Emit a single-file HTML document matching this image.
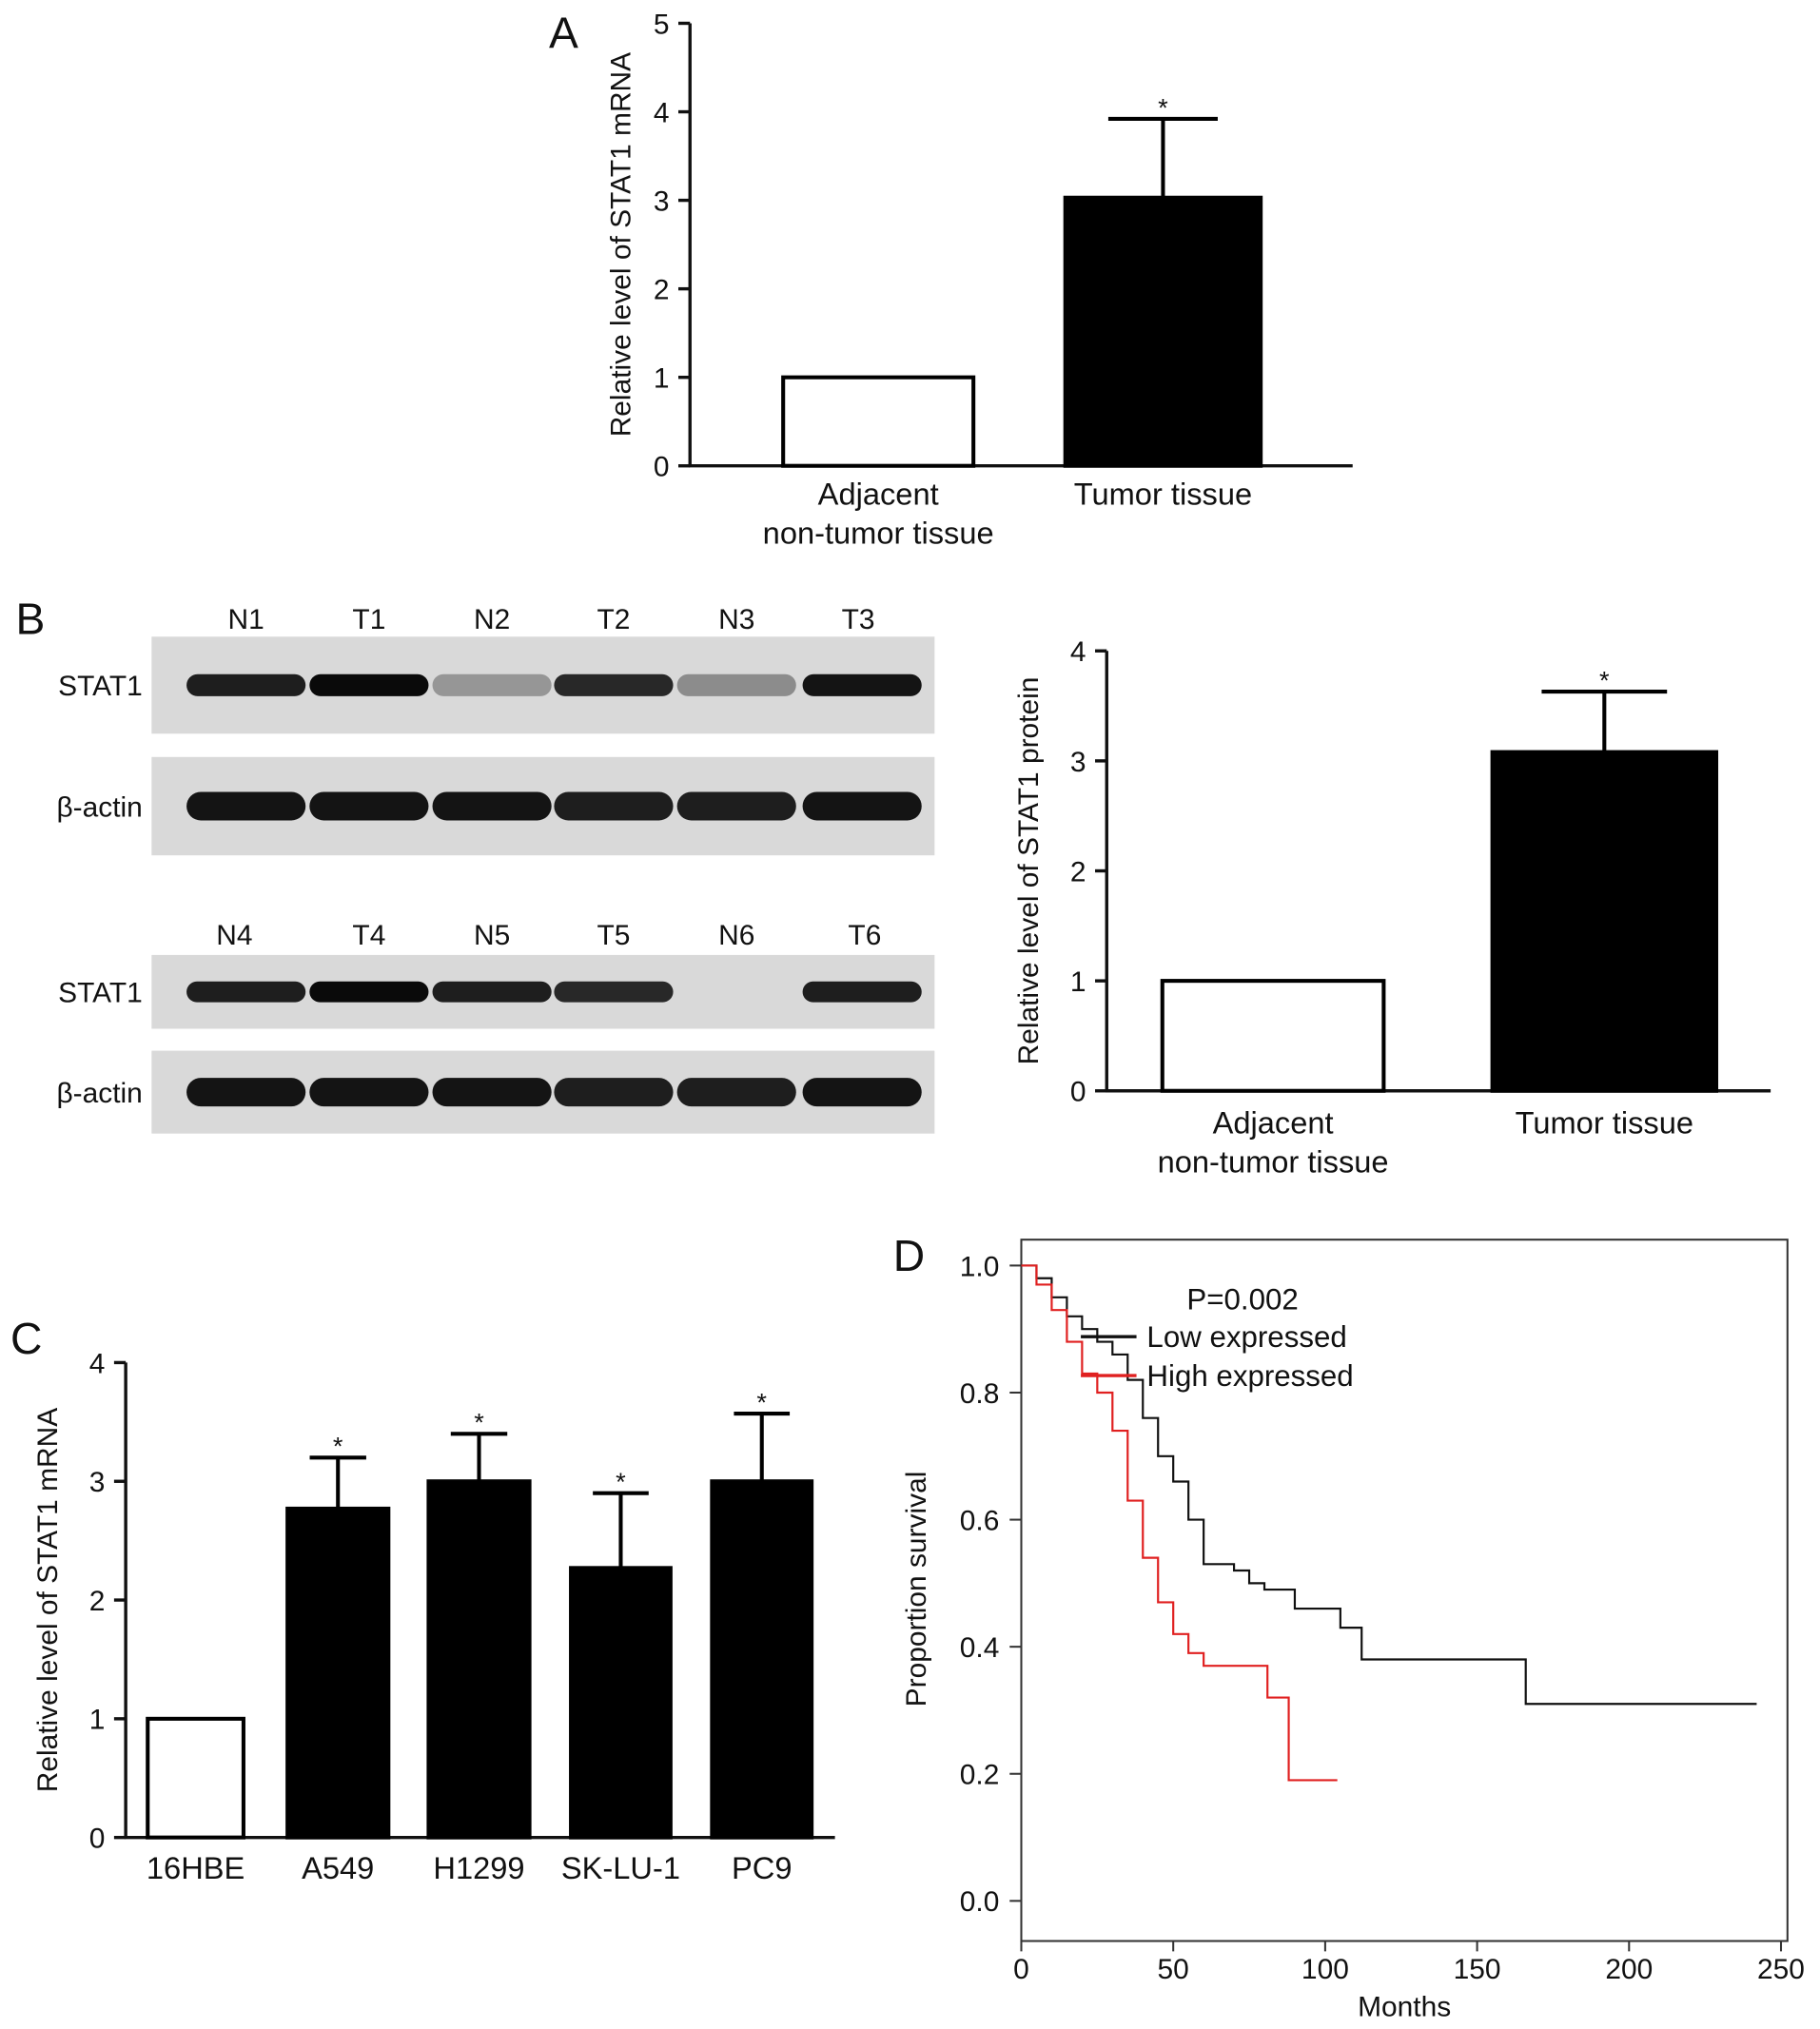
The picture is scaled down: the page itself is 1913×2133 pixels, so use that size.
<!DOCTYPE html>
<html><head><meta charset="utf-8"><style>
html,body{margin:0;padding:0;background:#fff}
svg{display:block}
text{font-family:"Liberation Sans",sans-serif;fill:#111}
</style></head><body>
<svg id="fig" width="1913" height="2133" viewBox="0 0 1406 1568" xmlns="http://www.w3.org/2000/svg">
<g id="root"></g>
</svg>
<script>
// Panel A data
const aCats=[["Adjacent","non-tumor tissue"],["Tumor tissue"]];
const aVals=[1.0,3.03];
const aErr=[0,0.89];
const aTicks=[0,1,2,3,4,5];
// Panel B data
const bCats=[["Adjacent","non-tumor tissue"],["Tumor tissue"]];
const bVals=[1.0,3.08];
const bErr=[0,0.55];
const bTicks=[0,1,2,3,4];
// Panel C data
const cCats=["16HBE","A549","H1299","SK-LU-1","PC9"];
const cVals=[1.0,2.77,3.0,2.27,3.0];
const cErr=[0,0.43,0.4,0.63,0.57];
const cTicks=[0,1,2,3,4];
// Panel D data
const dLowMonths=[0,5,10,15,20,25,30,35,40,45,50,55,60,70,75,80,90,100,105,112,166,242];
const dLowSurv=[1,0.98,0.95,0.92,0.90,0.88,0.86,0.82,0.76,0.70,0.66,0.60,0.53,0.52,0.50,0.49,0.46,0.46,0.43,0.38,0.31,0.31];
const dHighMonths=[0,5,10,15,20,25,30,35,40,45,50,55,60,81,88,104];
const dHighSurv=[1,0.97,0.93,0.88,0.83,0.80,0.74,0.63,0.54,0.47,0.42,0.39,0.37,0.32,0.19,0.19];
const dXTicks=[0,50,100,150,200,250];
const dYTicks=[0.0,0.2,0.4,0.6,0.8,1.0];
// Blot data (band intensity 0..1)
const blotLanes1=["N1","T1","N2","T2","N3","T3"];
const blotLanes2=["N4","T4","N5","T5","N6","T6"];
const stat1Int1=[0.9,1.0,0.3,0.85,0.35,0.95];
const stat1Int2=[0.9,1.0,0.9,0.85,0.0,0.9];
const actinInt=[0.95,0.95,0.95,0.9,0.9,0.95];

const NS="http://www.w3.org/2000/svg";
const root=document.getElementById('root');
function mk(tag,attrs,parent,txt){const e=document.createElementNS(NS,tag);for(const k in attrs)e.setAttribute(k,attrs[k]);if(txt!==undefined)e.textContent=txt;(parent||root).appendChild(e);return e;}

function barChart(o){
  const g=mk('g',{});
  
  
  const yS=v=>o.y0-(v/o.max)*(o.y0-o.yTop);
  mk('line',{x1:o.ax,y1:o.yTop,x2:o.ax,y2:o.y0,stroke:'#111','stroke-width':2.5},g);
  mk('line',{x1:o.ax-1,y1:o.y0,x2:o.xEnd,y2:o.y0,stroke:'#111','stroke-width':2.5},g);
  o.ticks.forEach(t=>{const y=yS(t);
    const l=mk('line',{x1:o.ax-9,y1:y,x2:o.ax,y2:y,stroke:'#111','stroke-width':2.5},g);
    
    const tx=mk('text',{x:o.ax-16,y:y+8,'text-anchor':'end','font-size':22},g,String(t));
    });
  const yl=mk('text',{x:0,y:0,transform:`translate(${o.ylx},${(o.yTop+o.y0)/2}) rotate(-90)`,'text-anchor':'middle','font-size':22},g,o.ylabel);
  
  o.vals.forEach((v,i)=>{
    const [x1,x2]=o.bars[i];const y=yS(v);const white=i===0;
    const r=mk('rect',{x:x1,y:y,width:x2-x1,height:o.y0-y,fill:white?'#fff':'#000',stroke:'#000','stroke-width':3},g);
    
    if(o.err[i]>0){const ye=yS(v+o.err[i]);const cx=(x1+x2)/2;const cw=(x2-x1)*0.28;
      mk('line',{x1:cx,y1:y,x2:cx,y2:ye,stroke:'#000','stroke-width':3},g);
      mk('line',{x1:cx-cw,y1:ye,x2:cx+cw,y2:ye,stroke:'#000','stroke-width':3},g);
      const s=mk('text',{x:cx,y:ye-2,'text-anchor':'middle','font-size':20},g,'*');
      }
    const lab=Array.isArray(o.cats[i])?o.cats[i]:[o.cats[i]];
    lab.forEach((t,j)=>{const tx=mk('text',{x:(x1+x2)/2,y:o.labY+j*30,'text-anchor':'middle','font-size':24},g,t);});
  });
}
// Panel letters
[['A',424,37],['B',12,490],['C',8,1046],['D',690,982]].forEach(([t,x,y])=>{const e=mk('text',{x:x,y:y,'font-size':34},root,t);});

barChart({name:'panel-a-chart',ax:533,yTop:18,y0:360,max:5,xEnd:1045,ticks:aTicks,vals:aVals,err:aErr,cats:aCats,bars:[[605,752],[823,974]],labY:390,ylx:487,ylabel:'Relative level of STAT1 mRNA'});
barChart({name:'panel-b-chart',ax:855,yTop:503,y0:843,max:4,xEnd:1368,ticks:bTicks,vals:bVals,err:bErr,cats:bCats,bars:[[898,1069],[1153,1326]],labY:876,ylx:802,ylabel:'Relative level of STAT1 protein'});
barChart({name:'panel-c-chart',ax:97,yTop:1053,y0:1420,max:4,xEnd:645,ticks:cTicks,vals:cVals,err:cErr,cats:cCats,bars:[[114,188],[222,300],[331,409],[441,518],[550,627]],labY:1452,ylx:44,ylabel:'Relative level of STAT1 mRNA'});

// Blots
function blot(y,h,ints,name,label,thick){
  const g=mk('g',{});
  
  
  mk('rect',{x:117,y:y,width:605,height:h,fill:'#d9d9d9'},g);
  const lx=[190,285,380,474,569,666];
  ints.forEach((v,i)=>{ if(v<=0) return;
    const c=Math.round(210-200*v);
    const b=mk('rect',{x:lx[i]-46,y:y+h/2-thick/2,width:92,height:thick,rx:thick/2,fill:`rgb(${c},${c},${c})`},g);
    });
  const t=mk('text',{x:110,y:y+h/2+8,'text-anchor':'end','font-size':22},g,label);
  
}
blot(492,75,stat1Int1,'stat1-blot-1','STAT1',17);
blot(585,76,actinInt,'actin-blot-1','β-actin',22);
blot(738,57,stat1Int2,'stat1-blot-2','STAT1',16);
blot(812,64,actinInt,'actin-blot-2','β-actin',22);
const lx1=[190,285,380,474,569,663],lx2=[181,285,380,474,569,668];
blotLanes1.forEach((l,i)=>{const t=mk('text',{x:lx1[i],y:486,'text-anchor':'middle','font-size':22},root,l);});
blotLanes2.forEach((l,i)=>{const t=mk('text',{x:lx2[i],y:730,'text-anchor':'middle','font-size':22},root,l);});

// Panel D
(function(){
  const g=mk('g',{});
  
  
  const xS=m=>789+m*(1376-789)/250, yS=s=>1469-s*(1469-978);
  mk('rect',{x:789,y:958,width:592,height:542,fill:'none',stroke:'#333','stroke-width':1.5},g);
  dXTicks.forEach(t=>{mk('line',{x1:xS(t),y1:1500,x2:xS(t),y2:1508,stroke:'#333','stroke-width':1.5},g);
    const e=mk('text',{x:xS(t),y:1529,'text-anchor':'middle','font-size':22},g,String(t));});
  dYTicks.forEach(t=>{mk('line',{x1:780,y1:yS(t),x2:789,y2:yS(t),stroke:'#333','stroke-width':1.5},g);
    const e=mk('text',{x:772,y:yS(t)+8,'text-anchor':'end','font-size':22},g,t.toFixed(1));});
  const xt=mk('text',{x:1085,y:1558,'text-anchor':'middle','font-size':22},g,'Months');
  const yt=mk('text',{x:0,y:0,transform:'translate(715,1228) rotate(-90)','text-anchor':'middle','font-size':22},g,'Proportion survival');
  function step(ms,ss,col,name){let d=`M${xS(ms[0])},${yS(ss[0])}`;
    for(let i=1;i<ms.length;i++){d+=` H${xS(ms[i])} V${yS(ss[i])}`;}
    const p=mk('path',{d:d,fill:'none',stroke:col,'stroke-width':1.6},g);}
  step(dLowMonths,dLowSurv,'#111','low-expressed-curve');
  step(dHighMonths,dHighSurv,'#e02020','high-expressed-curve');
  const pv=mk('text',{x:960,y:1012,'text-anchor':'middle','font-size':23},g,'P=0.002');
  mk('line',{x1:835,y1:1033,x2:878,y2:1033,stroke:'#111','stroke-width':2.5},g);
  const l1=mk('text',{x:886,y:1041,'font-size':23},g,'Low expressed');
  mk('line',{x1:835,y1:1063,x2:878,y2:1063,stroke:'#e02020','stroke-width':2.5},g);
  const l2=mk('text',{x:886,y:1071,'font-size':23},g,'High expressed');
})();
</script>
</body></html>
